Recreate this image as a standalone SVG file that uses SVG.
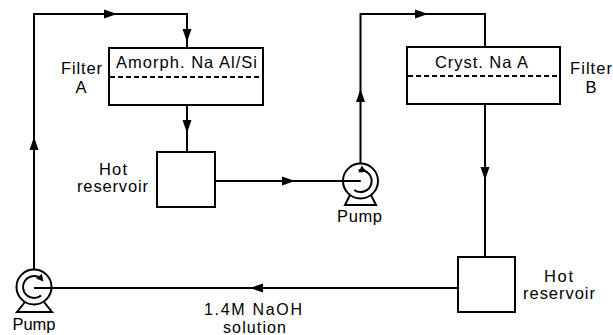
<svg xmlns="http://www.w3.org/2000/svg" xmlns:xlink="http://www.w3.org/1999/xlink" width="613" height="335" viewBox="0 0 613 335">
<style>
  .ln { fill: none; stroke: #000; stroke-width: 2; }
  .box { fill: #fff; stroke: #000; stroke-width: 2; }
  .dash { fill: none; stroke: #000; stroke-width: 1.8; stroke-dasharray: 5 3; }
  .t { font-family: "Liberation Sans", Arial, sans-serif; font-size: 16.5px; fill: #000; text-anchor: middle; }
  .ts { font-size: 16px; }
  .ah { fill: #000; }
</style>
<defs>
  <path id="ah" d="M0,0 L-13,-4.5 L-13,4.5 Z"/>
  <path id="ahs" d="M0,0 L-7,-3.8 L-7,3.8 Z"/>
</defs>
<rect width="613" height="335" fill="#fff"/>

<g id="connectors">
  <!-- pump A up, across, down into filter A -->
  <path class="ln" d="M34,269 L34,14 L187,14 L187,48"/>
  <!-- filter A to reservoir A -->
  <path class="ln" d="M187,105 L187,152"/>
  <!-- reservoir A to pump B -->
  <path class="ln" d="M215,181 L360.5,181"/>
  <!-- pump B up, across, down into filter B -->
  <path class="ln" d="M360.5,163.5 L360.5,14 L485,14 L485,47"/>
  <!-- filter B to reservoir B -->
  <path class="ln" d="M485,104 L485,257"/>
  <!-- reservoir B back to pump A -->
  <path class="ln" d="M458,288 L34,288"/>
  <g class="ah">
    <use xlink:href="#ah" transform="translate(117,14)"/>
    <use xlink:href="#ah" transform="translate(187,42) rotate(90)"/>
    <use xlink:href="#ah" transform="translate(187,133) rotate(90)"/>
    <use xlink:href="#ah" transform="translate(34,137) rotate(-90)"/>
    <use xlink:href="#ah" transform="translate(295,181)"/>
    <use xlink:href="#ah" transform="translate(360.5,89) rotate(-90)"/>
    <use xlink:href="#ah" transform="translate(428,14)"/>
    <use xlink:href="#ah" transform="translate(485,180) rotate(90)"/>
    <use xlink:href="#ah" transform="translate(250,288) rotate(180)"/>
  </g>
  <text class="t ts" x="253" y="315" textLength="98" lengthAdjust="spacing">1.4M NaOH</text>
  <text class="t ts" x="254.5" y="333" textLength="63" lengthAdjust="spacing">solution</text>
</g>

<g id="filterA">
  <rect class="box" x="109" y="48" width="154" height="57"/>
  <line class="dash" x1="110" y1="77" x2="262" y2="77"/>
  <text class="t" x="186.5" y="68" textLength="141" lengthAdjust="spacing">Amorph. Na Al/Si</text>
  <text class="t" x="81.5" y="74" textLength="41" lengthAdjust="spacing">Filter</text>
  <text class="t" x="81" y="93">A</text>
</g>

<g id="reservoirA">
  <rect class="box" x="157" y="152" width="58" height="55"/>
  <text class="t" x="113" y="175" textLength="28" lengthAdjust="spacing">Hot</text>
  <text class="t" x="112.5" y="192" textLength="71" lengthAdjust="spacing">reservoir</text>
</g>

<g id="filterB">
  <rect class="box" x="407" y="47" width="153" height="57"/>
  <line class="dash" x1="408" y1="76" x2="559" y2="76"/>
  <text class="t" x="481.5" y="68" textLength="93" lengthAdjust="spacing">Cryst. Na A</text>
  <text class="t" x="591" y="74" textLength="42" lengthAdjust="spacing">Filter</text>
  <text class="t" x="591" y="93">B</text>
</g>

<g id="reservoirB">
  <rect class="box" x="458" y="257" width="57" height="55"/>
  <text class="t" x="558.5" y="282" textLength="29" lengthAdjust="spacing">Hot</text>
  <text class="t" x="559" y="299" textLength="72" lengthAdjust="spacing">reservoir</text>
</g>

<g id="pumpB">
  <path class="ln" d="M350,195 L345,205 L376,205 L371,195"/>
  <circle class="ln" cx="360.5" cy="181" r="17.5"/>
  <line class="ln" x1="343" y1="181" x2="360.5" y2="181"/>
  <path class="ln" d="M358.6,170.2 A11,11 0 1 1 354.2,190"/>
  <use class="ah" xlink:href="#ahs" transform="translate(366.5,172) rotate(25)"/>
  <text class="t" x="359.5" y="222" textLength="45" lengthAdjust="spacing">Pump</text>
</g>

<g id="pumpA">
  <path class="ln" d="M25,302 L17,312 L52,312 L44,302"/>
  <circle class="ln" cx="34" cy="287" r="17.5"/>
  <line class="ln" x1="34" y1="288" x2="51.5" y2="288"/>
  <path class="ln" d="M41.1,295.4 A11,11 0 1 1 38.6,277"/>
  <use class="ah" xlink:href="#ahs" transform="translate(43.5,281.5) rotate(50)"/>
  <text class="t" x="34" y="330" textLength="43" lengthAdjust="spacing">Pump</text>
</g>
</svg>
